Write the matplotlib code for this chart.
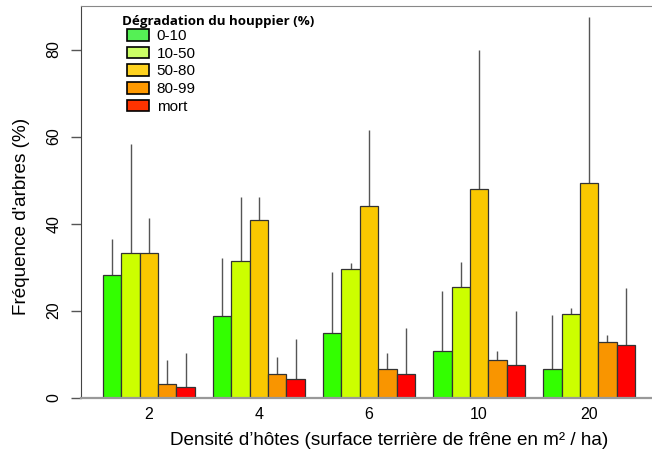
import numpy as np
import matplotlib
matplotlib.use("Agg")
from matplotlib import pyplot as plt
from matplotlib.patches import Patch

plt.rcParams['font.family'] = ['Liberation Sans', 'DejaVu Sans']

# densite d'hotes (groupes)
densites = ['2', '4', '6', '10', '20']
classes = ['0-10', '10-50', '50-80', '80-99', 'mort']

# moyennes par classe de degradation (une liste par classe, ordre des densites)
moy_0_10 = [28.1, 18.8, 14.9, 10.7, 6.5]
moy_10_50 = [33.2, 31.3, 29.5, 25.5, 19.3]
moy_50_80 = [33.2, 40.8, 44.1, 48.0, 49.4]
moy_80_99 = [3.2, 5.4, 6.5, 8.7, 12.9]
moy_mort = [2.4, 4.3, 5.5, 7.6, 12.1]

# haut des barres d'erreur
err_0_10 = [36.5, 32.0, 28.8, 24.6, 19.0]
err_10_50 = [58.3, 46.2, 30.9, 31.2, 20.6]
err_50_80 = [41.3, 46.2, 61.6, 79.8, 87.5]
err_80_99 = [8.7, 9.4, 10.2, 10.7, 14.4]
err_mort = [10.2, 13.5, 16.0, 19.9, 25.2]

moyennes = [moy_0_10, moy_10_50, moy_50_80, moy_80_99, moy_mort]
hauts = [err_0_10, err_10_50, err_50_80, err_80_99, err_mort]

col_barres = ['#33FF00', '#CCFF00', '#F9C800', '#F99500', '#FF0000']
col_legende = ['#55F055', '#CCFF66', '#FFD320', '#FF9900', '#FF3300']

fig = plt.figure(figsize=(6.52, 4.59), dpi=100)
W, H = 652.0, 459.0
x0, x1 = 81, 657
y_top, y_zero = 6, 397.7
ax = fig.add_axes([x0 / W, 1 - y_zero / H, (x1 - x0) / W, (y_zero - y_top) / H])

# barplot "beside" facon R : espace de 1 entre groupes
n_cl = len(classes)
groupe = np.arange(len(densites))
for j in range(n_cl):
    xc = 1 + 6 * groupe + j + 0.5
    ax.bar(xc, moyennes[j], width=1, color=col_barres[j],
           edgecolor='#333333', linewidth=0.9, zorder=2)
    ax.vlines(xc, moyennes[j], hauts[j], color='#555555', linewidth=1, zorder=1)

ax.set_xlim(-0.2, 31.2)
ax.set_ylim(0, 90)
ax.set_xticks(1 + 6 * groupe + 2.5)
ax.set_xticklabels(densites, fontsize=11.5)
ax.tick_params(axis='x', length=0, pad=7)
ax.set_yticks([0, 20, 40, 60, 80])
ax.set_yticklabels(['0', '20', '40', '60', '80'], rotation=90, va='center', fontsize=11.5)
ax.tick_params(axis='y', length=7, width=1, color='#555555', pad=7)

ax.spines['right'].set_visible(False)
ax.spines['left'].set_color('#444444')
ax.spines['top'].set_color('#888888')
ax.spines['bottom'].set_color('#999999')
ax.spines['bottom'].set_linewidth(1.6)

ax.set_ylabel("Fréquence d'arbres (%)", fontsize=13.6, labelpad=12)
ax.set_xlabel("Densité d’hôtes (surface terrière de frêne en m² / ha)", fontsize=13.6, labelpad=7)
ax.xaxis.label.set_x((389 - x0) / (x1 - x0))
ax.yaxis.label.set_y((y_zero - 216) / (y_zero - y_top))

# legende : titre a part, decale a gauche des cases
fig.text(122 / W, 1 - 21 / H, 'Dégradation du houppier (%)', ha='left', va='center',
         family='Open Sans', weight='bold', size=9.6)
handles = [Patch(facecolor=c, edgecolor='black', linewidth=1.2) for c in col_legende]
leg = ax.legend(handles, classes,
                loc='upper left', bbox_to_anchor=(127 / W, 1 - 29 / H),
                bbox_transform=fig.transFigure, frameon=False, fontsize=11,
                handlelength=1.45, handleheight=0.8, labelspacing=0.23,
                handletextpad=0.5, borderpad=0, borderaxespad=0)

fig.savefig('out.png', dpi=100)
